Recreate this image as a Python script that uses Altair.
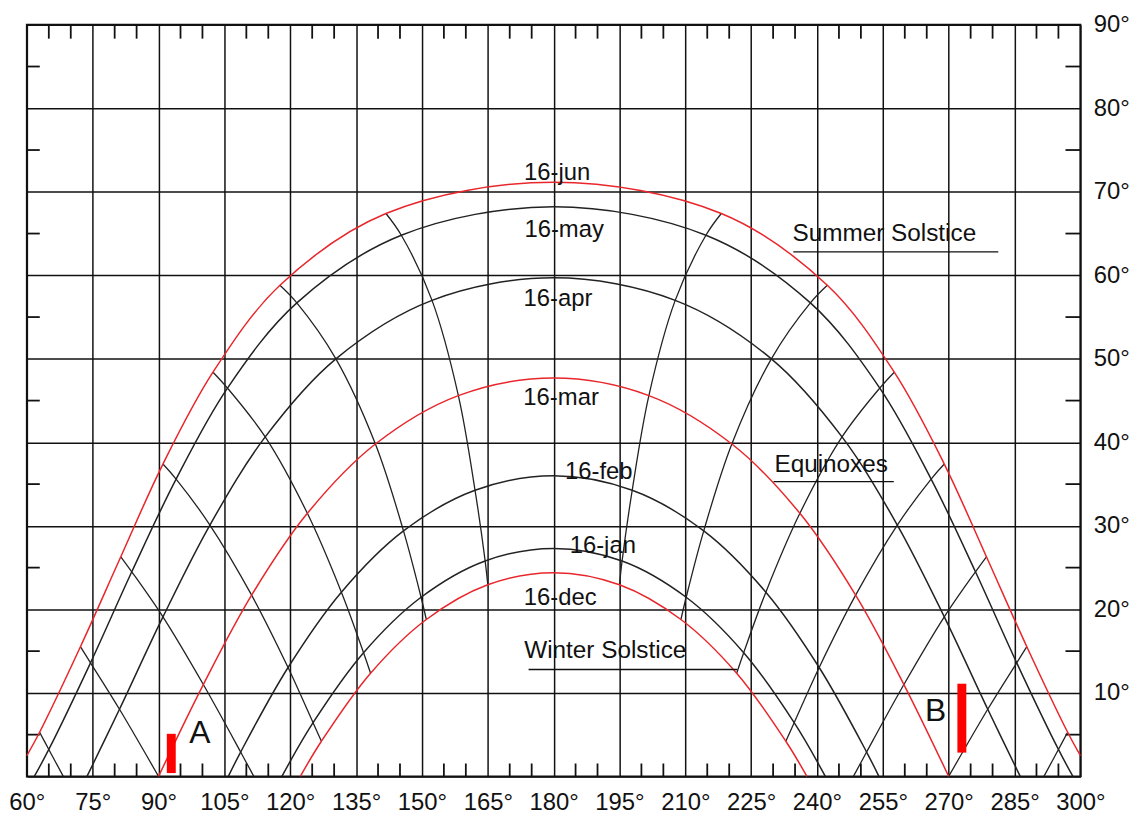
import altair as alt
import pandas as pd

# ---------------- data (azimuth °, altitude °) ----------------
X_TICKS = [60, 75, 90, 105, 120, 135, 150, 165, 180, 195, 210, 225, 240, 255, 270, 285, 300]
Y_TICKS = [0, 10, 20, 30, 40, 50, 60, 70, 80, 90]
X_MINOR = [65, 70, 80, 85, 95, 100, 110, 115, 125, 130, 140, 145, 155, 160, 170, 175,
           185, 190, 200, 205, 215, 220, 230, 235, 245, 250, 260, 265, 275, 280, 290, 295]
Y_MINOR = [5, 15, 25, 35, 45, 55, 65, 75, 85]

DATE_NAMES = ["16-jun", "16-may", "16-apr", "16-mar", "16-feb", "16-jan", "16-dec"]
DATE_RED = [True, False, False, True, False, False, True]

JUN_AZ = [60.0, 62.9, 72.2, 81.4, 91.0, 102.4, 117.65, 141.8, 180.0, 218.2, 242.35, 257.6, 269.0, 278.6, 287.8, 297.1, 300.0]
JUN_ALT = [2.5, 5.29, 15.53, 26.3, 37.4, 48.4, 58.8, 67.4, 71.15, 67.4, 58.8, 48.4, 37.4, 26.3, 15.53, 5.29, 2.5]
MAY_AZ = [61.7, 65.0, 74.5, 83.9, 94.0, 105.7, 121.5, 145.3, 180.0, 214.7, 238.5, 254.3, 266.0, 276.1, 285.5, 295.0, 298.3]
MAY_ALT = [0.0, 3.23, 13.6, 24.5, 35.6, 46.5, 56.7, 64.8, 68.2, 64.8, 56.7, 46.5, 35.6, 24.5, 13.6, 3.23, 0.0]
APR_AZ = [73.7, 81.1, 91.0, 101.7, 114.3, 130.4, 152.3, 180.0, 207.7, 229.6, 245.7, 258.3, 269.0, 278.9, 286.3]
APR_ALT = [0.0, 8.04, 19.1, 30.1, 40.65, 50.0, 57.0, 59.7, 57.0, 50.0, 40.65, 30.1, 19.1, 8.04, 0.0]
MAR_AZ = [90.0, 100.2, 111.2, 123.9, 139.4, 158.3, 180.0, 201.7, 220.6, 236.1, 248.8, 259.8, 270.0]
MAR_ALT = [0.0, 11.0, 21.7, 31.5, 39.8, 45.6, 47.7, 45.6, 39.8, 31.5, 21.7, 11.0, 0.0]
FEB_AZ = [105.9, 108.7, 119.5, 131.65, 145.8, 162.1, 180.0, 197.9, 214.2, 228.35, 240.5, 251.3, 254.1]
FEB_ALT = [0.0, 2.92, 13.04, 22.06, 29.4, 34.26, 36.0, 34.26, 29.4, 22.06, 13.04, 2.92, 0.0]
JAN_AZ = [118.1, 125.2, 136.7, 149.8, 164.4, 180.0, 195.6, 210.2, 223.3, 234.8, 241.9]
JAN_ALT = [0.0, 6.43, 14.81, 21.45, 25.8, 27.3, 25.8, 21.45, 14.81, 6.43, 0.0]
DEC_AZ = [122.3, 127.1, 138.3, 151.0, 165.0, 180.0, 195.0, 209.0, 221.7, 232.9, 237.7]
DEC_ALT = [0.0, 4.21, 12.36, 18.79, 22.95, 24.4, 22.95, 18.79, 12.36, 4.21, 0.0]

# hour lines (from the June curve down to the December curve / horizon)
H11_AZ = [141.8, 145.3, 152.3, 158.3, 162.1, 164.4, 165.0]
H11_ALT = [67.4, 64.8, 57.0, 45.6, 34.26, 25.8, 22.95]
H10_AZ = [117.65, 121.5, 130.4, 139.4, 145.8, 149.8, 151.0]
H10_ALT = [58.8, 56.7, 50.0, 39.8, 29.4, 21.45, 18.79]
H09_AZ = [102.4, 105.7, 114.3, 123.9, 131.65, 136.7, 138.3]
H09_ALT = [48.4, 46.5, 40.65, 31.5, 22.06, 14.81, 12.36]
H08_AZ = [91.0, 94.0, 101.7, 111.2, 119.5, 125.2, 127.1]
H08_ALT = [37.4, 35.6, 30.1, 21.7, 13.04, 6.43, 4.21]
H07_AZ = [81.4, 83.9, 91.0, 100.2, 108.7, 111.7]
H07_ALT = [26.3, 24.5, 19.1, 11.0, 2.92, 0.0]
H06_AZ = [72.2, 74.5, 81.1, 90.0]
H06_ALT = [15.53, 13.6, 8.04, 0.0]
H05_AZ = [62.9, 65.0, 68.3]
H05_ALT = [5.29, 3.23, 0.0]
H13_AZ = [218.2, 214.7, 207.7, 201.7, 197.9, 195.6, 195.0]
H14_AZ = [242.35, 238.5, 229.6, 220.6, 214.2, 210.2, 209.0]
H15_AZ = [257.6, 254.3, 245.7, 236.1, 228.35, 223.3, 221.7]
H16_AZ = [269.0, 266.0, 258.3, 248.8, 240.5, 234.8, 232.9]
H17_AZ = [278.6, 276.1, 269.0, 259.8, 251.3, 248.3]
H18_AZ = [287.8, 285.5, 278.9, 270.0]
H19_AZ = [297.1, 295.0, 291.7]

# annotations
LABEL_TEXT = ["16-jun", "16-may", "16-apr", "16-mar", "16-feb", "16-jan", "16-dec"]
LABEL_AZ = [180.8, 182.4, 181.0, 181.7, 190.3, 191.2, 181.5]
LABEL_ALT = [72.2, 65.4, 57.1, 45.3, 36.4, 27.6, 21.4]
NOTE_TEXT = ["Summer Solstice", "Equinoxes", "Winter Solstice"]
NOTE_AZ = [234.4, 230.3, 173.3]
NOTE_ALT = [64.9, 37.3, 15.0]
LINE_AZ1 = [234.6, 230.1, 174.3]
LINE_AZ2 = [281.3, 257.5, 221.8]
LINE_ALT = [62.8, 35.3, 12.8]
MARK_TEXT = ["A", "B"]
MARK_AZ = [99.4, 267.0]
MARK_ALT = [5.2, 7.8]
BAR_AZ = [92.9, 273.0]
BAR_LO = [0.4, 2.85]
BAR_HI = [5.1, 11.1]

# ---------------- build tables ----------------
date_curves = [(JUN_AZ, JUN_ALT), (MAY_AZ, MAY_ALT), (APR_AZ, APR_ALT), (MAR_AZ, MAR_ALT),
               (FEB_AZ, FEB_ALT), (JAN_AZ, JAN_ALT), (DEC_AZ, DEC_ALT)]
rows = []
for name, red, (azs, alts) in zip(DATE_NAMES, DATE_RED, date_curves):
    for i, (a, h) in enumerate(zip(azs, alts)):
        rows.append({"series": name, "kind": "red" if red else "black", "az": a, "alt": h, "i": i})
dates_df = pd.DataFrame(rows)

hour_lines = [("h11", H11_AZ, H11_ALT), ("h10", H10_AZ, H10_ALT), ("h09", H09_AZ, H09_ALT),
              ("h08", H08_AZ, H08_ALT), ("h07", H07_AZ, H07_ALT), ("h06", H06_AZ, H06_ALT),
              ("h05", H05_AZ, H05_ALT),
              ("h13", H13_AZ, H11_ALT), ("h14", H14_AZ, H10_ALT), ("h15", H15_AZ, H09_ALT),
              ("h16", H16_AZ, H08_ALT), ("h17", H17_AZ, H07_ALT), ("h18", H18_AZ, H06_ALT),
              ("h19", H19_AZ, H05_ALT)]
rows = []
for name, azs, alts in hour_lines:
    for i, (a, h) in enumerate(zip(azs, alts)):
        rows.append({"series": name, "az": a, "alt": h, "i": i})
hours_df = pd.DataFrame(rows)

labels_df = pd.DataFrame({"t": LABEL_TEXT, "az": LABEL_AZ, "alt": LABEL_ALT})
notes_df = pd.DataFrame({"t": NOTE_TEXT, "az": NOTE_AZ, "alt": NOTE_ALT})
ul_df = pd.DataFrame({"az": LINE_AZ1, "az2": LINE_AZ2, "alt": LINE_ALT})
marks_df = pd.DataFrame({"t": MARK_TEXT, "az": MARK_AZ, "alt": MARK_ALT})
bars_df = pd.DataFrame({"az": BAR_AZ, "alt": BAR_LO, "alt2": BAR_HI})
xminor_df = pd.DataFrame({"az": X_MINOR})
yminor_df = pd.DataFrame({"alt": Y_MINOR})

# ---------------- encodings ----------------
W, H = 1061, 757
FONT = "Liberation Sans"

AX_X = alt.Axis(values=X_TICKS, grid=True, gridColor="#111111", gridWidth=1.5, gridOpacity=1,
                ticks=False, domain=False, labelExpr="datum.value + '°'", labelFont=FONT,
                labelFontSize=24, labelColor="#111111", labelPadding=14, labelFlush=False,
                labelOverlap=False, title=None)
AX_Y = alt.Axis(orient="right", values=Y_TICKS, grid=True, gridColor="#111111", gridWidth=1.5,
                gridOpacity=1, ticks=False, domain=False,
                labelExpr="datum.value == 0 ? '' : datum.value + '°'", labelFont=FONT,
                labelFontSize=24, labelColor="#111111", labelPadding=13, labelFlush=False,
                labelOverlap=False, title=None)
SX = alt.Scale(domain=[60, 300], nice=False, zero=False)
SY = alt.Scale(domain=[0, 90], nice=False, zero=False)


def X(field="az"):
    return alt.X(f"{field}:Q", scale=SX, axis=AX_X)


def Y(field="alt"):
    return alt.Y(f"{field}:Q", scale=SY, axis=AX_Y)


dates = alt.Chart(dates_df).mark_line(interpolate="catmull-rom", strokeWidth=1.5).encode(
    x=X(), y=Y(), detail="series:N", order="i:Q",
    color=alt.Color("kind:N", scale=alt.Scale(domain=["red", "black"], range=["#e8262b", "#222222"]),
                    legend=None),
)

hours = alt.Chart(hours_df).mark_line(interpolate="catmull-rom", strokeWidth=1.3, color="#222222").encode(
    x=X(), y=Y(), detail="series:N", order="i:Q"
)

top_ticks = alt.Chart(xminor_df).mark_rule(color="#111111", strokeWidth=1.8).encode(
    x=X(), y=alt.value(0), y2=alt.value(14))
bot_ticks = alt.Chart(xminor_df).mark_rule(color="#111111", strokeWidth=1.8).encode(
    x=X(), y=alt.value(H - 13), y2=alt.value(H))
left_ticks = alt.Chart(yminor_df).mark_rule(color="#111111", strokeWidth=1.8).encode(
    y=Y(), x=alt.value(0), x2=alt.value(13))
right_ticks = alt.Chart(yminor_df).mark_rule(color="#111111", strokeWidth=1.8).encode(
    y=Y(), x=alt.value(W - 15), x2=alt.value(W))

date_labels = alt.Chart(labels_df).mark_text(font=FONT, fontSize=24, color="#111111").encode(
    x=X(), y=Y(), text="t:N")
notes = alt.Chart(notes_df).mark_text(font=FONT, fontSize=24.5, color="#111111", align="left").encode(
    x=X(), y=Y(), text="t:N")
underlines = alt.Chart(ul_df).mark_rule(color="#111111", strokeWidth=1.3).encode(
    x=X(), x2="az2:Q", y=Y())
marks = alt.Chart(marks_df).mark_text(font=FONT, fontSize=32, color="#111111").encode(
    x=X(), y=Y(), text="t:N")
bars = alt.Chart(bars_df).mark_rule(color="#ff0000", strokeWidth=9, strokeCap="butt").encode(
    x=X(), y=Y(), y2="alt2:Q")

chart = alt.layer(
    top_ticks, bot_ticks, left_ticks, right_ticks, hours, dates, underlines,
    date_labels, notes, marks, bars
).properties(
    width=W, height=H,
    autosize=alt.AutoSizeParams(type="none"),
    padding={"left": 19, "top": 14, "right": 53, "bottom": 38},
    background="white",
).configure_view(stroke="#111111", strokeWidth=2)

chart.save("out.html", embed_options={"renderer": "svg", "actions": False})
